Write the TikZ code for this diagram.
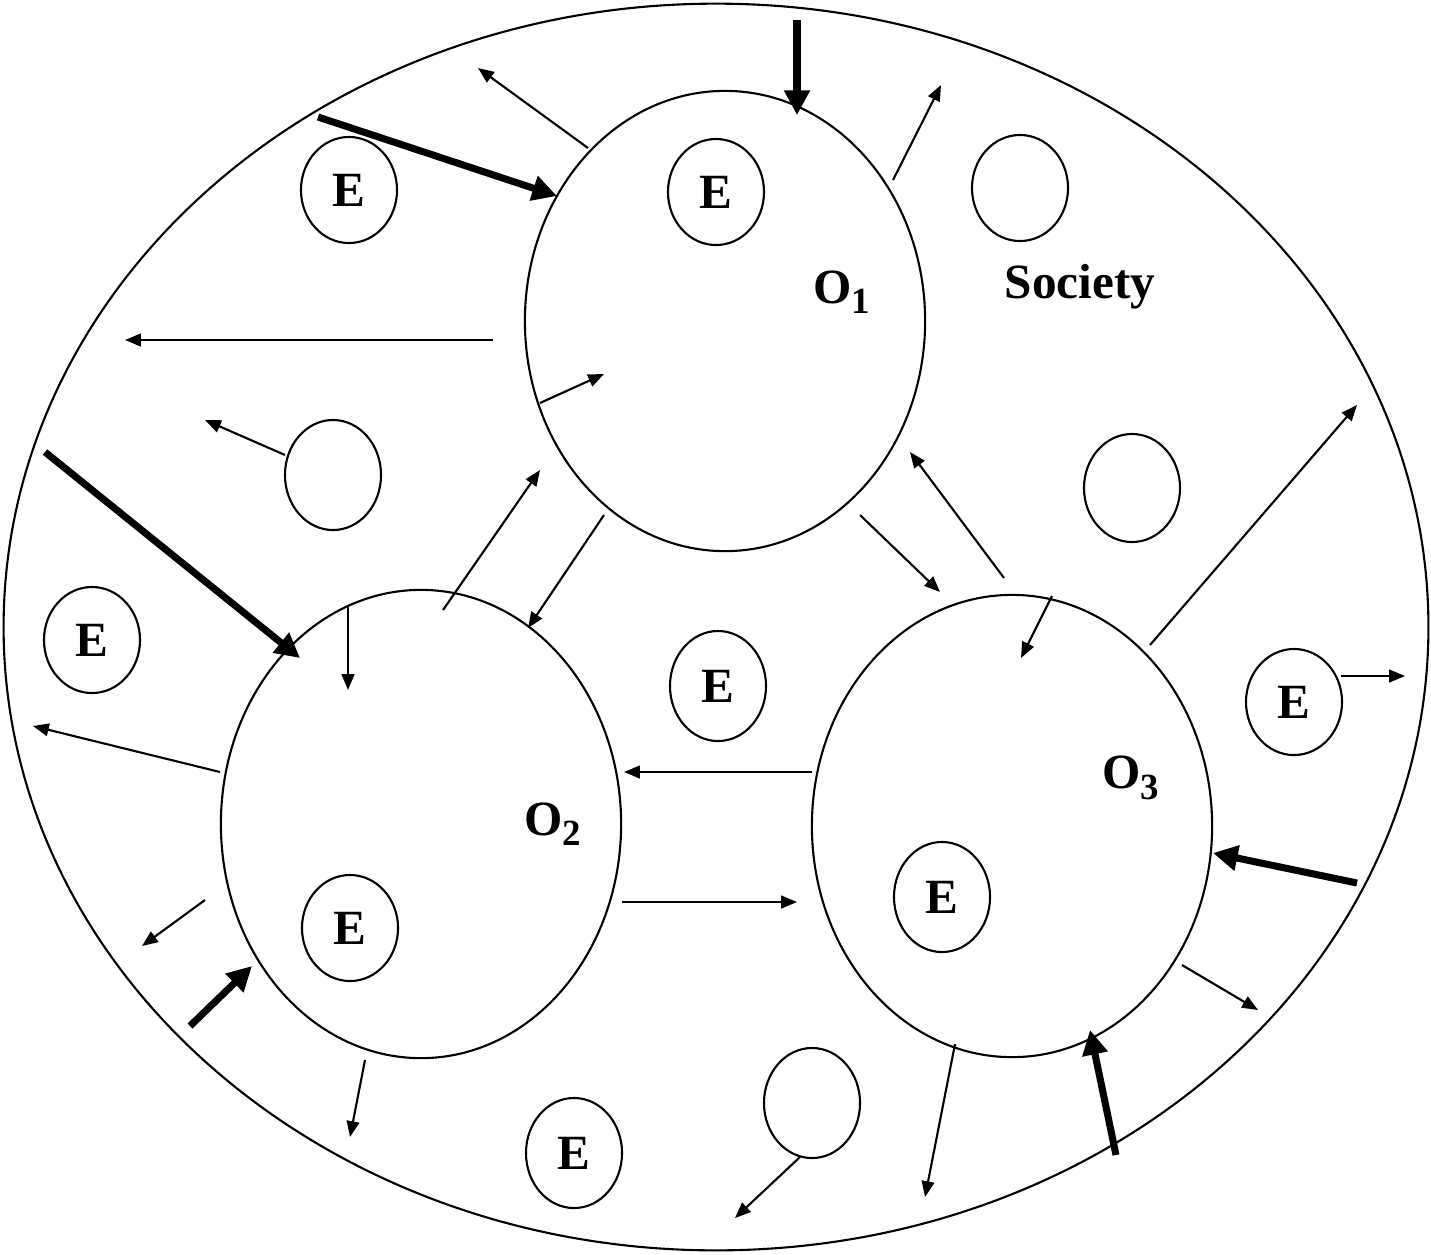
\documentclass[tikz,border=0pt]{standalone}
\usepackage{fontspec}
\setmainfont{Liberation Serif}
\usetikzlibrary{shapes.geometric,arrows.meta}

\newcommand{\osub}[1]{O\raisebox{-3pt}{\fontsize{10.5}{12}\selectfont #1}}

\tikzset{
	org/.style={draw,ellipse,line width=0.6pt,minimum width=4cm,minimum height=4.6cm,inner sep=0pt},
	emp/.style={draw,ellipse,line width=0.6pt,minimum width=0.96cm,minimum height=1.06cm,inner sep=0pt,font=\bfseries\fontsize{14}{16}\selectfont},
	lbl/.style={font=\bfseries\fontsize{14}{16}\selectfont},
	flow/.style={-{Triangle[length=4.5pt,width=3.6pt]},line width=0.6pt},
	force/.style={-{Triangle[length=7pt,width=7pt]},line width=2pt}
}

\begin{document}
\begin{tikzpicture}[x=0.01cm,y=-0.01cm]
		\useasboundingbox (0,0) rectangle (1431,1254);
		\begin{scope}
			% society and the three organisations
			\node[draw,ellipse,line width=0.6pt,minimum width=14.24cm,minimum height=12.46cm] (soc) at (716,627) {};
			\node[org] (O1) at (725,321) {};
			\node[org,minimum height=4.68cm] (O2) at (421,824) {};
			\node[org,minimum height=4.62cm] (O3) at (1012,826) {};
		
			\node[emp] (e1) at (349,190) {E};
			\node[emp] (e2) at (716,192) {E};
			\node[emp] (e3) at (1020,188) {};
			\node[emp,minimum height=1.1cm] (e4) at (333,475) {};
			\node[emp,minimum height=1.08cm] (e5) at (1132,488) {};
			\node[emp] (e6) at (92,640) {E};
			\node[emp,minimum height=1.1cm] (e7) at (718,686) {E};
			\node[emp] (e8) at (1294,702) {E};
			\node[emp,minimum height=1.1cm] (e9) at (942,897) {E};
			\node[emp] (e10) at (350,928) {E};
			\node[emp,minimum height=1.1cm] (e11) at (574,1153) {E};
			\node[emp,minimum height=1.1cm] (e12) at (812,1103) {};
		
			\node[lbl] (L1) at (842,292) {\osub{1}};
			\node[lbl] (L2) at (553,824) {\osub{2}};
			\node[lbl] (L3) at (1131,778) {\osub{3}};
			\node[lbl] (soclbl) at (1080,287) {Society};
		
			% arrow ends
			\coordinate (p1) at (588,148); \coordinate (q1) at (478,68);
			\coordinate (p2) at (893,180); \coordinate (q2) at (941,85);
			\coordinate (p3) at (493,340); \coordinate (q3) at (125,340);
			\coordinate (p4) at (540,403); \coordinate (q4) at (604,374);
			\coordinate (p5) at (285,455); \coordinate (q5) at (205,420);
			\coordinate (p6) at (443,610); \coordinate (q6) at (540,470);
			\coordinate (p7) at (604,515); \coordinate (q7) at (528,628);
			\coordinate (p8) at (860,515); \coordinate (q8) at (940,592);
			\coordinate (p9) at (1004,578); \coordinate (q9) at (910,452);
			\coordinate (p10) at (1052,596); \coordinate (q10) at (1021,658);
			\coordinate (p11) at (1150,645); \coordinate (q11) at (1357,405);
			\coordinate (p12) at (348,605); \coordinate (q12) at (348,690);
			\coordinate (p13) at (1341,676); \coordinate (q13) at (1405,676);
			\coordinate (p14) at (220,772); \coordinate (q14) at (33,726);
			\coordinate (p15) at (812,772); \coordinate (q15) at (624,772);
			\coordinate (p16) at (622,902); \coordinate (q16) at (797,902);
			\coordinate (p17) at (205,900); \coordinate (q17) at (142,946);
			\coordinate (p18) at (1182,965); \coordinate (q18) at (1258,1010);
			\coordinate (p19) at (365,1060); \coordinate (q19) at (350,1137);
			\coordinate (p20) at (955,1044); \coordinate (q20) at (925,1197);
			\coordinate (p21) at (800,1157); \coordinate (q21) at (735,1218);
		
			\coordinate (s1) at (797,20); \coordinate (t1) at (797,115);
			\coordinate (s2) at (318,117); \coordinate (t2) at (557,196);
			\coordinate (s3) at (45,452); \coordinate (t3) at (300,658);
			\coordinate (s4) at (190,1026); \coordinate (t4) at (252,966);
			\coordinate (s5) at (1357,883); \coordinate (t5) at (1213,853);
			\coordinate (s6) at (1116,1155); \coordinate (t6) at (1090,1030);
		
			\foreach \i in {1,...,21}
				\draw[flow] (p\i) -- (q\i);
			\foreach \i in {1,...,6}
				\draw[force] (s\i) -- (t\i);
		\end{scope}
	\end{tikzpicture}
\end{document}
